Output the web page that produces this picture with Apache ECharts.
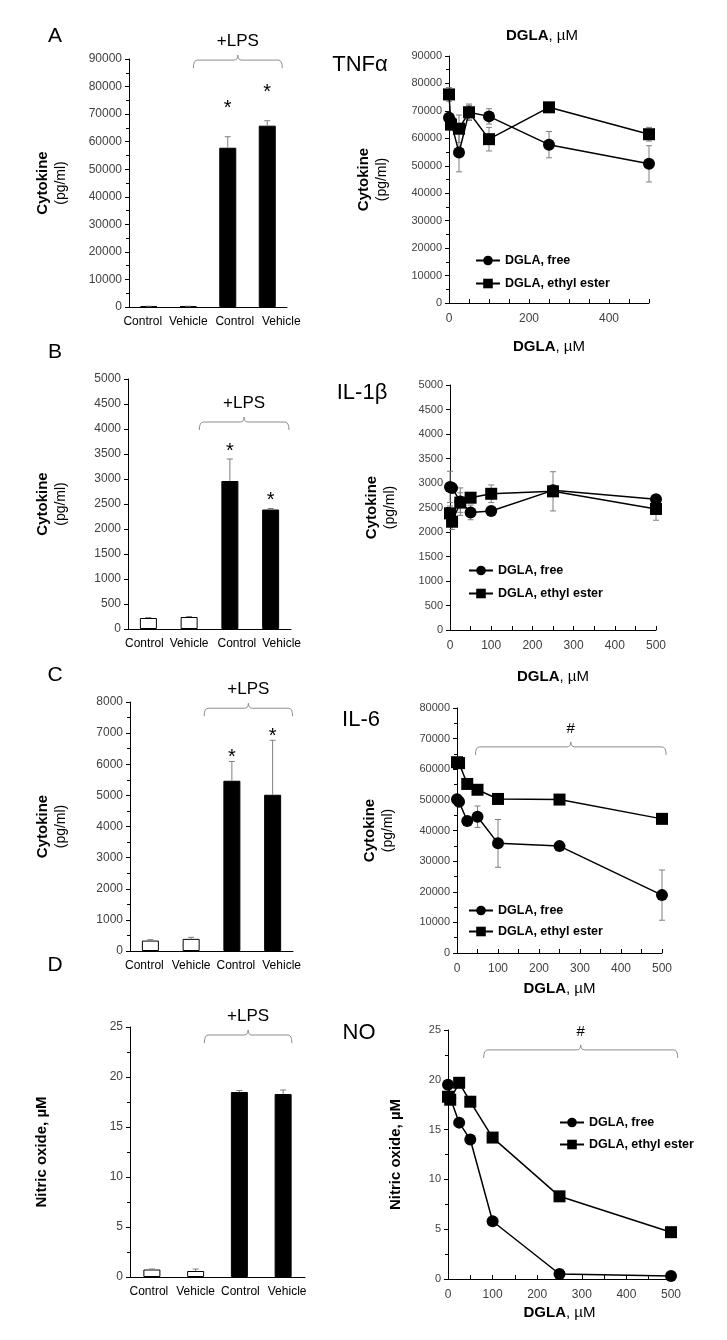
<!DOCTYPE html>
<html><head><meta charset="utf-8">
<script src="https://cdn.jsdelivr.net/npm/echarts@6/dist/echarts.min.js"></script>
<style>html,body{margin:0;padding:0;background:#fff}#c{width:727px;height:1340px}</style>
</head><body><div id="c"></div>
<script>
// ---------- data ----------
const categories = ['Control', 'Vehicle', 'Control', 'Vehicle'];
const doses = [0, 5, 25, 50, 100, 250, 500];

// Panel A (TNFα)
const tnfBars = [300, 300, 57800, 65800];
const tnfBarErr = [0, 0, 4000, 1800];
const tnfStars = [null, null, 73300, 79100];
const tnfFree = [67500, 66000, 54800, 69500, 68000, 57700, 50700];
const tnfFreeErr = [1500, 1500, 7000, 2500, 2800, 4800, 6600];
const tnfEster = [76000, 65000, 63500, 69500, 59700, 71300, 61500];
const tnfEsterErr = [2500, 2000, 5000, 3000, 4300, 1000, 2500];

// Panel B (IL-1β)
const il1Bars = [220, 240, 2960, 2390];
const il1BarErr = [10, 10, 440, 20];
const il1Stars = [null, null, 3620, 2640];
const il1Free = [2920, 2900, 2620, 2400, 2430, 2850, 2670];
const il1FreeErr = [320, 100, 280, 150, 60, 60, 60];
const il1Ester = [2380, 2210, 2600, 2700, 2780, 2830, 2470];
const il1EsterErr = [150, 160, 200, 100, 180, 400, 230];

// Panel C (IL-6)
const il6Bars = [335, 390, 5470, 5020];
const il6BarErr = [30, 50, 620, 1750];
const il6Stars = [null, null, 6300, 7000];
const il6Free = [50200, 49400, 43100, 44500, 35800, 34900, 18900];
const il6FreeErr = [1000, 1000, 800, 3500, 7800, 800, 8200];
const il6Ester = [62300, 62000, 55200, 53300, 50300, 50100, 43800];
const il6EsterErr = [1000, 1000, 1000, 800, 800, 1200, 800];

// Panel D (NO)
const noBars = [0.75, 0.6, 18.5, 18.3];
const noBarErr = [0.05, 0.2, 0.15, 0.4];
const noFree = [19.5, 18.2, 15.7, 14.0, 5.8, 0.5, 0.3];
const noFreeErr = [0.4, 0.4, 0.3, 0.3, 0.3, 0.2, 0.1];
const noEster = [18.3, 18.0, 19.7, 17.8, 14.2, 8.3, 4.7];
const noEsterErr = [0.4, 0.3, 0.3, 0.3, 0.3, 0.3, 0.2];

// Axis tick settings
const yMaxes = [90000, 90000, 5000, 5000, 8000, 80000, 25, 25];
const yIntervals = [10000, 10000, 500, 500, 1000, 10000, 5, 5];

// ---------- styles / layout ----------
const FONT = 'Liberation Sans, Arial, sans-serif';
const TXT = '#404040';
const ERR = '#7f7f7f';
const barFill = ['#ffffff', '#ffffff', '#000000', '#000000'];

const grids = [
  {left: 129, top: 59, width: 158, height: 248},
  {left: 449, top: 56, width: 200, height: 247},
  {left: 128, top: 379, width: 163, height: 250},
  {left: 450, top: 385, width: 206, height: 245},
  {left: 130, top: 702, width: 163, height: 249},
  {left: 457, top: 708, width: 205, height: 245},
  {left: 130, top: 1027, width: 175, height: 250},
  {left: 448, top: 1030, width: 223, height: 249}
];

function errRender(barMode) {
  return function (params, api) {
    const x = api.value(0), v = api.value(1), e = api.value(2);
    const lo = barMode ? v : v - e, hi = v + e;
    const p1 = api.coord([x, lo]), p2 = api.coord([x, hi]);
    const w = 3, st = {stroke: ERR, lineWidth: 1};
    const ch = [
      {type: 'line', shape: {x1: p1[0], y1: p1[1], x2: p2[0], y2: p2[1]}, style: st},
      {type: 'line', shape: {x1: p2[0] - w, y1: p2[1], x2: p2[0] + w, y2: p2[1]}, style: st}
    ];
    if (!barMode) ch.push({type: 'line', shape: {x1: p1[0] - w, y1: p1[1], x2: p1[0] + w, y2: p1[1]}, style: st});
    return {type: 'group', children: ch};
  };
}

function braceRender(isCat, label, gap) {
  return function (params, api) {
    const y = api.value(2);
    let px1, px2;
    if (isCat) {
      const band = api.size([1, 0])[0];
      px1 = api.coord([api.value(0), y])[0] + api.value(3) * band;
      px2 = api.coord([api.value(1), y])[0] + api.value(4) * band;
    } else {
      px1 = api.coord([api.value(0), y])[0];
      px2 = api.coord([api.value(1), y])[0];
    }
    const py = api.coord([isCat ? 0 : api.value(0), y])[1];
    const mid = (px1 + px2) / 2;
    const d = 'M' + px1 + ',' + (py + 8) + ' Q' + px1 + ',' + py + ' ' + (px1 + 4) + ',' + py +
      ' L' + (mid - 4) + ',' + py + ' Q' + mid + ',' + py + ' ' + mid + ',' + (py - 5) +
      ' Q' + mid + ',' + py + ' ' + (mid + 4) + ',' + py + ' L' + (px2 - 4) + ',' + py +
      ' Q' + px2 + ',' + py + ' ' + px2 + ',' + (py + 8);
    return {type: 'group', children: [
      {type: 'path', shape: {pathData: d}, style: {stroke: '#8c8c8c', fill: 'none', lineWidth: 1}},
      {type: 'text', style: {text: label, x: mid, y: py - gap, align: 'center', verticalAlign: 'middle',
        fontSize: label === '#' ? 15 : 17, fontFamily: FONT, fill: '#000'}}
    ]};
  };
}

function starRender(params, api) {
  const p = api.coord([api.value(0), api.value(1)]);
  return {type: 'text', style: {text: '*', x: p[0], y: p[1] + 3, align: 'center', verticalAlign: 'middle',
    fontSize: 20, fontFamily: FONT, fill: '#000'}};
}

const xAxes = [], yAxes = [], series = [], legends = [];

function yAxis(gi, name, nameGap, minor, fs) {
  return {
    type: 'value', gridIndex: gi, min: 0, max: yMaxes[gi], interval: yIntervals[gi],
    axisLine: {show: true, lineStyle: {color: '#000', width: 1}},
    axisTick: {show: true, length: 4, lineStyle: {color: '#000'}},
    minorTick: {show: minor, splitNumber: 2, length: 3, lineStyle: {color: '#000'}},
    splitLine: {show: false}, minorSplitLine: {show: false},
    axisLabel: {color: TXT, fontSize: fs, fontFamily: FONT, margin: 7, formatter: v => String(v)},
    name: name, nameLocation: 'middle', nameGap: nameGap, nameRotate: 90,
    nameTextStyle: {fontFamily: FONT, color: '#000',
      rich: {b: {fontSize: 15, fontWeight: 'bold', fontFamily: FONT, color: '#000', lineHeight: 19},
             n: {fontSize: 14, fontFamily: FONT, color: '#000', lineHeight: 19}}}
  };
}

// shift of each category label relative to its bar (labels are spread wider than the bars)
function labelRich(shifts) {
  const r = {};
  shifts.forEach((s, i) => {
    r['s' + i] = {fontSize: 12, fontFamily: FONT, color: '#000',
      padding: s >= 0 ? [0, 0, 0, 2 * s] : [0, -2 * s, 0, 0]};
  });
  return r;
}

function addBarPanel(gi, vals, errs, stars, braceY, braceFr, yName, yGap, minor, shifts) {
  xAxes.push({type: 'category', gridIndex: gi, data: categories,
    axisLine: {show: true, lineStyle: {color: '#000', width: 1}},
    axisTick: {show: false},
    axisLabel: {color: '#000', fontSize: 12, fontFamily: FONT, margin: 9, interval: 0,
      formatter: (v, i) => '{s' + i + '|' + v + '}', rich: labelRich(shifts)}});
  yAxes.push(yAxis(gi, yName, yGap, minor, 12));
  series.push({type: 'bar', xAxisIndex: gi, yAxisIndex: gi, data: vals, barWidth: 17,
    itemStyle: {color: p => barFill[p.dataIndex], borderColor: '#000', borderWidth: 1}, z: 2});
  series.push({type: 'custom', xAxisIndex: gi, yAxisIndex: gi, renderItem: errRender(true),
    data: vals.map((v, i) => [i, v, errs[i]]), z: 3, silent: true});
  if (stars) {
    series.push({type: 'custom', xAxisIndex: gi, yAxisIndex: gi, renderItem: starRender,
      data: stars.map((s, i) => s === null ? null : [i, s]).filter(d => d), z: 4, silent: true});
  }
  series.push({type: 'custom', xAxisIndex: gi, yAxisIndex: gi, renderItem: braceRender(true, '+LPS', 19),
    encode: {x: 0, y: 2}, data: [[1, 3, braceY, braceFr[0], braceFr[1]]], z: 4, silent: true});
}

function addLinePanel(gi, free, freeErr, ester, esterErr, labelEvery, xGap, yName, yGap, legendPos, brace) {
  xAxes.push({type: 'value', gridIndex: gi, min: 0, max: 500, interval: 100,
    axisLine: {show: true, lineStyle: {color: '#000', width: 1}},
    axisTick: {show: true, inside: true, length: 4, lineStyle: {color: '#000'}},
    minorTick: {show: true, splitNumber: 2, length: 4, lineStyle: {color: '#000'}},
    splitLine: {show: false},
    axisLabel: {color: TXT, fontSize: 12, fontFamily: FONT, margin: 10,
      formatter: v => (v % labelEvery === 0 && (labelEvery === 100 || v < 500)) ? String(v) : ''},
    name: '{b|DGLA}{n|, µM}', nameLocation: 'middle', nameGap: xGap,
    nameTextStyle: {rich: {b: {fontSize: 15, fontWeight: 'bold', fontFamily: FONT, color: '#000'},
                           n: {fontSize: 15, fontFamily: FONT, color: '#000'}}}});
  yAxes.push(yAxis(gi, yName, yGap, gi !== 3, 11));
  series.push({type: 'custom', xAxisIndex: gi, yAxisIndex: gi, renderItem: errRender(false),
    data: doses.map((d, i) => [d, free[i], freeErr[i]]), z: 1, silent: true});
  series.push({type: 'custom', xAxisIndex: gi, yAxisIndex: gi, renderItem: errRender(false),
    data: doses.map((d, i) => [d, ester[i], esterErr[i]]), z: 1, silent: true});
  series.push({type: 'line', name: 'DGLA, free', xAxisIndex: gi, yAxisIndex: gi,
    data: doses.map((d, i) => [d, free[i]]), symbol: 'circle', symbolSize: 12,
    lineStyle: {color: '#000', width: 1.5}, itemStyle: {color: '#000'}, z: 3});
  series.push({type: 'line', name: 'DGLA, ethyl ester', xAxisIndex: gi, yAxisIndex: gi,
    data: doses.map((d, i) => [d, ester[i]]), symbol: 'rect', symbolSize: 12,
    lineStyle: {color: '#000', width: 1.5}, itemStyle: {color: '#000'}, z: 3});
  if (brace) {
    series.push({type: 'custom', xAxisIndex: gi, yAxisIndex: gi, renderItem: braceRender(false, '#', 18),
      encode: {x: 0, y: 2}, data: [[brace[0], brace[1], brace[2], 0, 0]], z: 4, silent: true});
  }
  legends.push({left: legendPos[0], top: legendPos[1], orient: 'vertical', itemWidth: 24, itemHeight: 12,
    itemGap: legendPos[2], padding: 0, selectedMode: false, data: ['DGLA, free', 'DGLA, ethyl ester'],
    textStyle: {fontWeight: 'bold', fontSize: 12.5, color: '#000', fontFamily: FONT}});
}

const cytoName = '{b|Cytokine}\n{n|(pg/ml)}';
const noName = '{b|Nitric oxide, µM}';

addBarPanel(0, tnfBars, tnfBarErr, tnfStars, 89600, [0.13, 0.38], cytoName, 58, true, [-6, 0, 7, 14]);
addLinePanel(1, tnfFree, tnfFreeErr, tnfEster, tnfEsterErr, 200, 36, cytoName, 57, [475, 254, 10], null);
addBarPanel(2, il1Bars, il1BarErr, il1Stars, 4140, [0.25, 0.45], cytoName, 57, false, [-4, 0, 7, 11]);
addLinePanel(3, il1Free, il1FreeErr, il1Ester, il1EsterErr, 100, 39, cytoName, 50, [468, 564, 10], null);
addBarPanel(4, il6Bars, il6BarErr, il6Stars, 7800, [0.32, 0.49], cytoName, 59, true, [-6, 0, 4, 9]);
addLinePanel(5, il6Free, il6FreeErr, il6Ester, il6EsterErr, 100, 28, cytoName, 59, [468, 904, 8], [45, 510, 67300]);
addBarPanel(6, noBars, noBarErr, null, 24.2, [0.2, 0.2], noName, 79, true, [-3, 0, 1, 4]);
addLinePanel(7, noFree, noFreeErr, noEster, noEsterErr, 100, 26, noName, 43, [559, 1116, 9], [80, 515, 23.0]);

function gtext(text, x, y, size, opts) {
  return Object.assign({type: 'text', x: x, y: y, style: {text: text, fontSize: size, fontFamily: FONT,
    fill: '#000', align: 'center', verticalAlign: 'middle'}}, opts || {});
}

const graphics = [
  gtext('A', 55, 36, 21), gtext('B', 55, 352, 21), gtext('C', 55, 675, 21), gtext('D', 55, 965, 21),
  gtext('TNFα', 360, 65, 22), gtext('IL-1β', 362, 393, 22), gtext('IL-6', 361, 720, 22), gtext('NO', 359, 1033, 22),
  {type: 'text', x: 542, y: 36, style: {text: '{b|DGLA}{n|, µM}', align: 'center', verticalAlign: 'middle',
    rich: {b: {fontSize: 15, fontWeight: 'bold', fontFamily: FONT, fill: '#000'},
           n: {fontSize: 15, fontFamily: FONT, fill: '#000'}}}}
];

const chart = echarts.init(document.getElementById('c'), null, {renderer: 'canvas'});
chart.setOption({
  animation: false,
  backgroundColor: '#fff',
  grid: grids,
  xAxis: xAxes,
  yAxis: yAxes,
  legend: legends,
  series: series,
  graphic: graphics
});
</script>
</body></html>
